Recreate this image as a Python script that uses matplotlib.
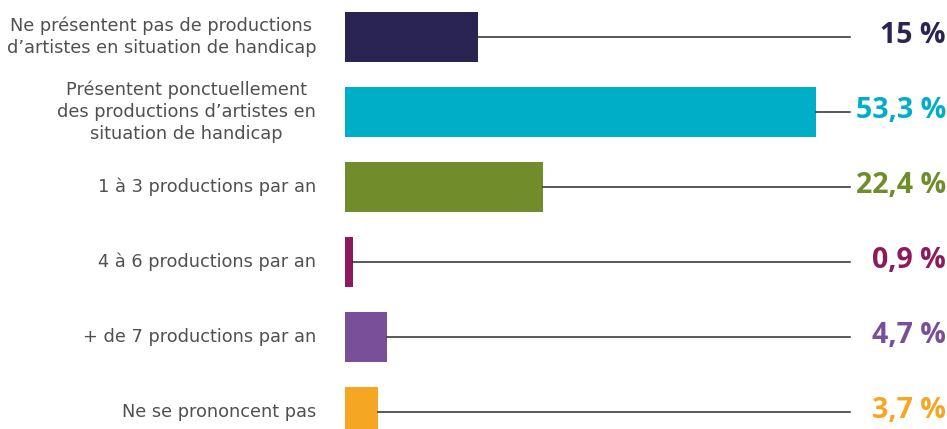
import matplotlib
matplotlib.use("Agg")
import matplotlib.pyplot as plt

# data
categories = [
    "Ne présentent pas de productions\nd’artistes en situation de handicap",
    "Présentent ponctuellement\ndes productions d’artistes en\nsituation de handicap",
    "1 à 3 productions par an",
    "4 à 6 productions par an",
    "+ de 7 productions par an",
    "Ne se prononcent pas",
]
values = [15, 53.3, 22.4, 0.9, 4.7, 3.7]
value_labels = ["15 %", "53,3 %", "22,4 %", "0,9 %", "4,7 %", "3,7 %"]
colors = ["#2a2453", "#00aec7", "#718c2b", "#8c1a5c", "#7a4f9a", "#f5a623"]

W, H = 947, 429
px_per_unit = 8.84  # pixels per percent
x0_px = 345         # where bars start

fig = plt.figure(figsize=(W / 100, H / 100), dpi=100)
ax = fig.add_axes([0, 0, 1, 1])
ax.set_xlim(-x0_px / px_per_unit, (W - x0_px) / px_per_unit)
# rows are 75 px apart, first centre at y=37 px
row_px = 75
top_px = 37
ax.set_ylim((H - top_px) / row_px, -top_px / row_px)
ax.axis("off")

line_end = (850 - x0_px) / px_per_unit
label_x = (316 - x0_px) / px_per_unit
value_x = (946 - x0_px) / px_per_unit

for i, (cat, v, lab, c) in enumerate(zip(categories, values, value_labels, colors)):
    ax.barh(i, v, height=50 / row_px, color=c, left=0)
    ax.plot([v, line_end], [i, i], color="#2b2b2b", lw=1.1, zorder=1)
    ax.text(label_x, i, cat, ha="right", va="center", multialignment="center",
            fontsize=12.8, color="#505050", family="DejaVu Sans", linespacing=1.3)
    ax.text(value_x, i - 0.02, lab, ha="right", va="center", fontsize=20.5,
            fontweight="bold", color=c, family="Open Sans")

fig.savefig("out.png", dpi=100)
